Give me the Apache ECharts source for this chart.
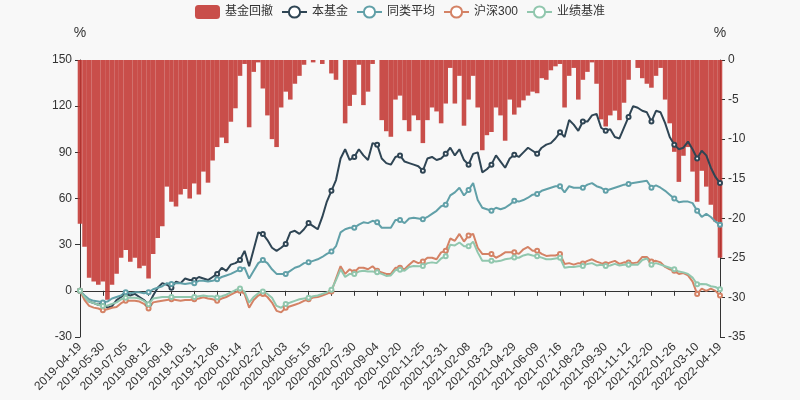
<!DOCTYPE html>
<html>
<head>
<meta charset="utf-8">
<title>基金回撤</title>
<script src="https://cdn.jsdelivr.net/npm/echarts@6/dist/echarts.min.js"></script>
<style>
  html, body { margin: 0; padding: 0; background: #f8f8f8; }
  #chart { width: 800px; height: 400px; }
</style>
</head>
<body>
<div id="chart"></div>
<script>
var dates = [
  '2019-04-19','2019-04-26','2019-05-08','2019-05-15','2019-05-22',
  '2019-05-30','2019-06-06','2019-06-14','2019-06-21','2019-06-28',
  '2019-07-05','2019-07-12','2019-07-19','2019-07-26','2019-08-02',
  '2019-08-12','2019-08-19','2019-08-26','2019-09-02','2019-09-09',
  '2019-09-18','2019-09-25','2019-10-09','2019-10-16','2019-10-24',
  '2019-10-31','2019-11-07','2019-11-14','2019-11-21','2019-11-28',
  '2019-12-06','2019-12-13','2019-12-20','2019-12-27','2020-01-06',
  '2020-01-14','2020-01-21','2020-02-07','2020-02-14','2020-02-20',
  '2020-02-27','2020-03-05','2020-03-12','2020-03-19','2020-03-26',
  '2020-04-03','2020-04-13','2020-04-20','2020-04-27','2020-05-08',
  '2020-05-15','2020-05-22','2020-05-29','2020-06-05','2020-06-12',
  '2020-06-22','2020-07-01','2020-07-08','2020-07-15','2020-07-22',
  '2020-07-30','2020-08-06','2020-08-13','2020-08-20','2020-08-27',
  '2020-09-04','2020-09-11','2020-09-18','2020-09-25','2020-10-13',
  '2020-10-20','2020-10-27','2020-11-03','2020-11-10','2020-11-17',
  '2020-11-25','2020-12-02','2020-12-09','2020-12-16','2020-12-23',
  '2020-12-31','2021-01-08','2021-01-15','2021-01-22','2021-01-29',
  '2021-02-08','2021-02-19','2021-02-26','2021-03-05','2021-03-12',
  '2021-03-23','2021-03-30','2021-04-07','2021-04-14','2021-04-21',
  '2021-04-29','2021-05-10','2021-05-17','2021-05-24','2021-05-31',
  '2021-06-09','2021-06-17','2021-06-24','2021-07-01','2021-07-08',
  '2021-07-16','2021-07-23','2021-07-30','2021-08-06','2021-08-13',
  '2021-08-23','2021-08-30','2021-09-06','2021-09-13','2021-09-23',
  '2021-09-30','2021-10-14','2021-10-21','2021-10-28','2021-11-04',
  '2021-11-12','2021-11-19','2021-11-26','2021-12-03','2021-12-10',
  '2021-12-20','2021-12-27','2022-01-04','2022-01-11','2022-01-18',
  '2022-01-26','2022-02-09','2022-02-16','2022-02-23','2022-03-03',
  '2022-03-10','2022-03-17','2022-03-24','2022-03-31','2022-04-11',
  '2022-04-19'
];

// 本基金 累计收益 (%)
var fundReturn = [
  0, -4, -7, -8, -9, -8, -11, -10, -6, -4,
  -2, -3, -2, -4, -6, -9, -3, 2, 5, 4,
  2, 6, 5, 8, 7, 7, 9, 8, 7, 9,
  11, 15, 13, 17, 18, 20, 26, 16, 27, 38,
  37, 33, 28, 26, 28, 30.5, 38, 39, 37, 40,
  44, 42, 40, 48, 58, 65, 72, 86, 92, 85,
  87, 92, 88, 85, 96, 95, 86, 83, 82, 87,
  88, 84, 83, 82, 81, 78, 86, 87, 85, 86,
  89, 93, 88, 92, 85, 82, 89, 90, 77, 79,
  82, 88, 84, 80, 86, 88.5, 87, 90, 93, 91,
  89, 93, 95, 96, 99, 103, 100, 111, 108, 104,
  110, 110, 114, 115, 106, 104, 105, 100, 99, 106,
  113, 120, 119, 117, 116, 110, 117, 116, 109, 100,
  95, 92, 93, 97, 92, 86, 91, 88, 80, 74,
  70
];

// 同类平均 (%)
var peerAvg = [
  0, -3, -5.5, -6.5, -7, -7.5, -7, -5, -4, -3,
  -1, -1.5, -1, -1, -1.5, -1, 1, 2, 3, 5,
  4.5, 5, 5, 4.5, 5, 5, 6.5, 6.5, 6, 6.5,
  7.5, 9, 10, 11, 12.5, 14, 15, 8, 13, 18,
  20, 18, 14, 11, 11, 11, 13, 15, 16, 18,
  18.5, 19.5, 20.5, 22, 24, 25.5, 29, 38, 40, 41,
  41, 43, 44.5, 44, 45.5, 44.5, 41, 41, 41, 46,
  46, 44, 47, 47.5, 47, 46.5, 48, 50, 52, 55,
  56, 62, 64, 67, 62, 65.5, 70, 59, 54, 53,
  52, 54, 53, 54, 56, 58.5, 58, 59, 60.5, 62.5,
  63, 65, 66, 67, 68, 68, 64, 68, 67, 67,
  67, 69, 70, 68, 67, 65, 66, 67, 68, 69,
  69.5, 70, 70.5, 71, 71.5, 67, 68.5, 67, 65, 62.5,
  60, 57.5, 58, 58, 57, 52, 48, 50, 48, 45,
  43
];

// 沪深300 (%)
var hs300 = [
  0, -6, -9.8, -10.9, -11.5, -12.6, -12, -11, -10.5, -8,
  -6.5, -6.5, -6.5, -7, -8.5, -11.5, -7.5, -7, -6.5, -6,
  -5.5, -6, -6.5, -6, -6, -5.5, -5, -4.2, -5, -5.5,
  -6.5, -5, -4, -2.5, -1, 0, -2, -11, -6, -3,
  -2, -4, -7.6, -13, -14, -11, -10, -9, -8, -6.5,
  -5.5, -4.4, -4, -3, -2, -0.5, 8, 16, 11, 14,
  12, 15, 15, 14, 16, 13, 12, 11, 11, 15,
  15, 14, 17, 19.5, 18, 19, 21.5, 21.5, 20.5, 25,
  26, 34, 32.5, 37, 32, 36, 37, 28, 24, 24,
  24, 21.5, 23, 25, 25, 25, 24, 27, 28.5, 26,
  26, 24, 22.7, 23, 23, 24, 17.5, 18, 17, 18,
  17.8, 19.5, 20.5, 19, 18, 17.3, 18.5, 19.5, 17.5, 18.5,
  18.4, 18, 18.5, 22, 22, 19, 19.5, 18.5, 15.5, 14,
  13, 11, 11.5, 10, 6, -2, 1.5, 0, 1.5, 0,
  -3
];

// 业绩基准 (%)
var benchmark = [
  0, -4, -7, -8, -9, -9.8, -9.5, -8.5, -7.5, -5.5,
  -4.5, -4.5, -4.5, -5, -6.5, -8.7, -5, -4.5, -4, -4,
  -4, -4, -4, -4, -4, -4, -3.5, -3, -3.5, -3.5,
  -4.4, -3.5, -2.5, -1, 0.5, 1.5, -0.5, -7.6, -4, -1.5,
  -0.5, -2, -4.5, -9.8, -11, -8.5, -7.6, -6.5, -5.5, -5,
  -4.5, -3.5, -3, -2, -1, 0.7, 7, 14, 9, 11,
  11, 12.5, 13, 12.5, 12.5, 12, 11, 9.7, 10, 13.5,
  13.7, 13, 15.5, 16.2, 16, 16.2, 18, 18.5, 18, 21,
  22.5, 30, 29.5, 31.4, 29, 29, 32, 25, 19.5, 19.5,
  19.5, 19, 19.5, 20.5, 21, 21.6, 21.5, 23, 23.8, 23,
  22.5, 21.6, 20.5, 20.5, 21, 21.5, 15, 15.5, 15.5, 16,
  16.2, 17.5, 18, 16.5, 17, 16.2, 16.5, 17.5, 16.5, 17,
  17, 17, 17, 20, 21, 17, 18, 17, 16, 15,
  14, 12.5, 12, 11, 8.6, 4.3, 4.5, 4.3, 3, 2.5,
  1
];

// 基金回撤 (%)
var drawdown = [
  -20.7, -23.6, -27.5, -28, -28.4, -28, -30.3, -28.4, -27, -25,
  -24, -25.5, -25, -26.3, -26, -27.6, -24.5, -22.5, -21, -16,
  -17.9, -18.5, -17, -16.3, -17.5, -15.6, -17, -14.1, -15.5, -12.7,
  -11, -9.8, -10.5, -7.8, -6.1, -2, -0.5, -8.5, -1.5, -0.3,
  -3.6, -7, -10, -11, -6, -4, -5, -3, -2, -0.6,
  0, -0.3, 0, -0.5, 0, -1.7, -2.5, 0, -8, -5.8,
  -4.4, -0.6, -5.7, -4, -0.5, 0, -7.6, -9, -9.7, -5,
  -4.5, -7.6, -9, -7, -7.6, -10.5, -7.6, -6, -6.5, -8,
  -5.5, -1, -5.5, -2, -8.3, -5, -2, -6, -11.4, -9.5,
  -9.1, -6, -7, -10.2, -5, -6.9, -6, -5.1, -4.5, -4,
  -4.2, -2.3, -2.5, -1.3, -0.8, -0.5, -6, -2, -1, -5,
  -2.5, -1.5, -0.3, -3, -7.5, -8.4, -7, -6.4, -7.6, -5.4,
  -2.5, 0, -1, -2.3, -3, -3.5, -2, -1, -5, -8,
  -11.6, -15.4, -12.1, -11, -14.1, -17.9, -14, -16, -18.3, -20.4,
  -25
];

var seriesNames = ['基金回撤', '本基金', '同类平均', '沪深300', '业绩基准'];
var seriesColors = ['#c23531', '#2f4554', '#61a0a8', '#d48265', '#91c7ae'];
var fontFamily = '"Liberation Sans", Arial, "Noto Sans CJK SC", sans-serif';

function lineSeries(idx, values) {
    return {
        name: seriesNames[idx],
        type: 'line',
        xAxisIndex: 1,
        yAxisIndex: 0,
        symbol: 'emptyCircle',
        symbolSize: 4,
        itemStyle: { color: seriesColors[idx] },
        lineStyle: { width: 2, color: seriesColors[idx] },
        data: values
    };
}

var option = {
    backgroundColor: '#f8f8f8',
    animation: false,
    color: seriesColors,
    textStyle: { fontFamily: fontFamily },
    legend: {
        data: seriesNames,
        top: 0,
        textStyle: { color: '#333', fontSize: 12 }
    },
    grid: { left: 80, right: 80, top: 60, bottom: 63 },
    xAxis: [
        {
            // axis line drawn at zero
            type: 'category',
            data: dates,
            boundaryGap: false,
            axisLine: { onZero: true, lineStyle: { color: '#333' } },
            axisTick: { show: true, interval: 4 },
            axisLabel: { show: false, interval: 4 },
            splitLine: { show: false }
        },
        {
            // date labels at the bottom
            type: 'category',
            position: 'bottom',
            data: dates,
            boundaryGap: false,
            axisLine: { show: false, onZero: false },
            axisTick: { show: false },
            axisLabel: { interval: 4, rotate: 45, color: '#333', fontSize: 12 },
            splitLine: { show: false }
        }
    ],
    yAxis: [
        {
            type: 'value',
            name: '%',
            nameGap: 20,
            nameTextStyle: { color: '#333', fontSize: 14 },
            min: -30,
            max: 150,
            interval: 30,
            axisLine: { show: true, lineStyle: { color: '#333' } },
            axisTick: { show: true },
            axisLabel: { color: '#333', fontSize: 12 },
            splitLine: { show: false }
        },
        {
            type: 'value',
            name: '%',
            nameGap: 20,
            nameTextStyle: { color: '#333', fontSize: 14 },
            position: 'right',
            min: -35,
            max: 0,
            interval: 5,
            axisLine: { show: true, lineStyle: { color: '#333' } },
            axisTick: { show: true },
            axisLabel: { color: '#333', fontSize: 12 },
            splitLine: { show: false }
        }
    ],
    series: [
        {
            name: '基金回撤',
            type: 'bar',
            xAxisIndex: 0,
            yAxisIndex: 1,
            barCategoryGap: '0%',
            itemStyle: { color: seriesColors[0], opacity: 0.88 },
            data: drawdown
        },
        lineSeries(1, fundReturn),
        lineSeries(2, peerAvg),
        lineSeries(3, hs300),
        lineSeries(4, benchmark)
    ]
};

var chart = document.getElementById('chart');
var chartContainer = echarts.init(chart);
chartContainer.setOption(option);
window.onresize = function () {
    chartContainer.resize();
};
</script>
</body>
</html>
